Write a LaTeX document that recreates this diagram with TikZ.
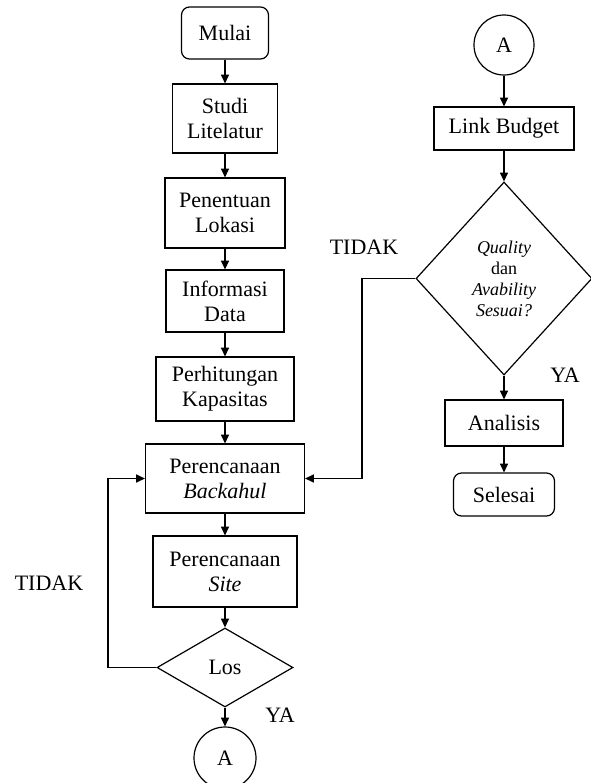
\documentclass[tikz,border=0pt]{standalone}
\usepackage{fontspec}
\setmainfont{Liberation Serif}
\usetikzlibrary{shapes.geometric,arrows.meta}
\begin{document}
\begin{tikzpicture}[x=0.75pt,y=-0.75pt,
  txt/.style={font=\fontsize{16.5}{18.75}\selectfont},
  box/.style={draw, line width=0.9pt, inner sep=0pt, align=center, txt},
  term/.style={box, rounded corners=6pt},
  dec/.style={draw, diamond, line width=0.9pt, inner sep=0pt, align=center},
  conn/.style={draw, circle, line width=0.9pt, inner sep=0pt, txt},
  arr/.style={line width=0.9pt, -{Triangle[length=6.5pt,width=6pt]}},
  lbl/.style={txt, inner sep=0pt}]
\useasboundingbox (0,0) rectangle (590,783);
% left column
\node[term, minimum width=65.25pt, minimum height=39pt] (mulai) at (225,33) {Mulai};
\node[box, minimum width=78.75pt, minimum height=51.75pt] (studi) at (225,118.5) {Studi\\Litelatur};
\node[box, minimum width=90pt, minimum height=52.5pt] (lokasi) at (225,213) {Penentuan\\Lokasi};
\node[box, minimum width=88.5pt, minimum height=46.5pt] (info) at (225,301) {Informasi\\Data};
\node[box, minimum width=103.5pt, minimum height=48pt] (hitung) at (225,389) {Perhitungan\\Kapasitas};
\node[box, minimum width=119.25pt, minimum height=51.75pt] (back) at (225,478.5) {Perencanaan\\\textit{Backahul}};
\node[box, minimum width=108pt, minimum height=53.25pt] (site) at (225,571.5) {Perencanaan\\\textit{Site}};
\node[dec, txt, minimum width=102pt, minimum height=59.25pt] (los) at (225,667.5) {Los};
\node[conn, minimum size=46.5pt] (a1) at (225,758) {A};
% right column
\node[conn, minimum size=45pt] (a2) at (504,45) {A};
\node[box, minimum width=105pt, minimum height=32.25pt] (lb) at (504,128.5) {Link Budget};
\node[dec, minimum width=132pt, minimum height=144.75pt,
  font=\fontsize{13.5}{15.75}\selectfont] (qa) at (504,278.5)
  {\textit{Quality}\\dan\\\textit{Avability}\\\textit{Sesuai?}};
\node[box, minimum width=88.5pt, minimum height=34.5pt] (ana) at (504,423) {Analisis};
\node[term, minimum width=75.75pt, minimum height=32.25pt] (selesai) at (504,494.5) {Selesai};
% labels
\node[lbl] (tidak1) at (49,583) {TIDAK};
\node[lbl] (ya1) at (280,715) {YA};
\node[lbl] (tidak2) at (364,247) {TIDAK};
\node[lbl] (ya2) at (565,375) {YA};
% connectors
\draw[arr] (mulai) -- (studi);
\draw[arr] (studi) -- (lokasi);
\draw[arr] (lokasi) -- (info);
\draw[arr] (info) -- (hitung);
\draw[arr] (hitung) -- (back);
\draw[arr] (back) -- (site);
\draw[arr] (site) -- (los);
\draw[arr] (los) -- (a1);
\coordinate (lp) at (108,667.5);
\draw[arr] (los.west) -- (lp) |- (back.west);
\draw[arr] (a2) -- (lb);
\draw[arr] (lb) -- (qa);
\draw[arr] (qa) -- (ana);
\draw[arr] (ana) -- (selesai);
\coordinate (rp) at (362,278.5);
\draw[arr] (qa.west) -- (rp) |- (back.east);
\end{tikzpicture}
\end{document}
